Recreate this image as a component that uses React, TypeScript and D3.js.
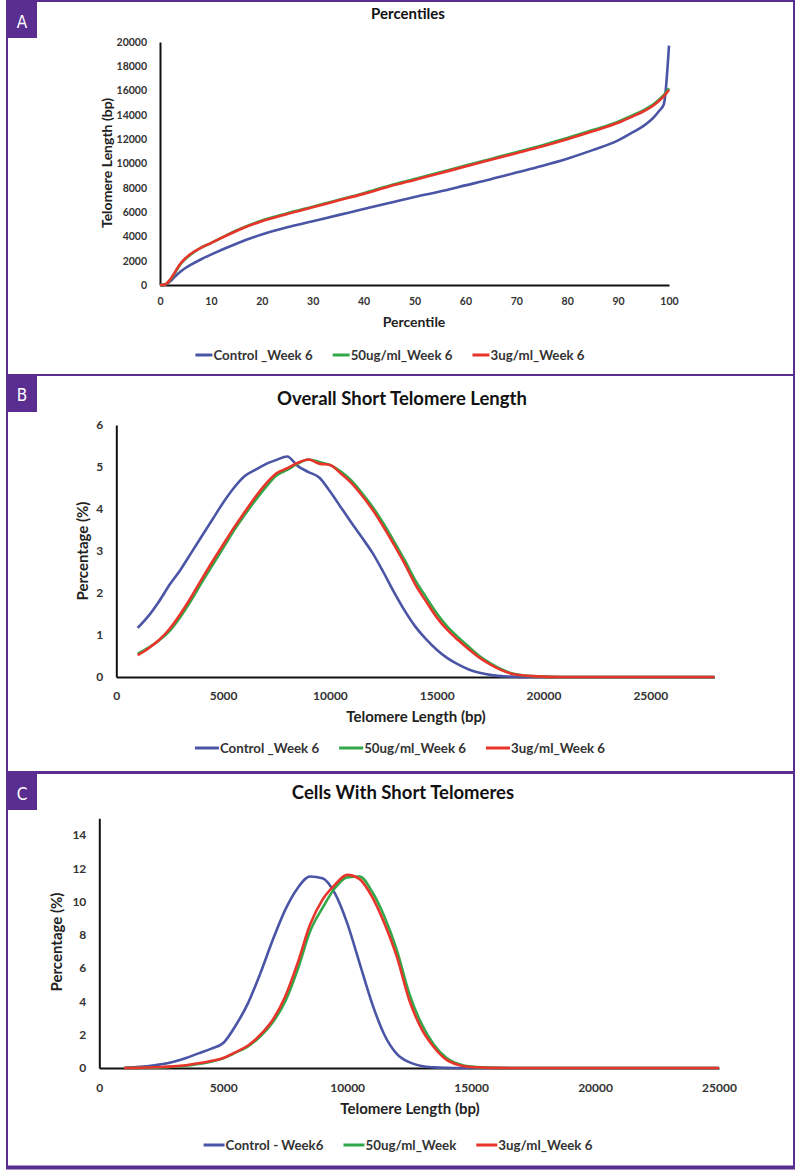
import { useEffect, useRef } from "react";
import * as d3 from "d3";

const PURPLE = "#5a2d90";
const BLUE = "#4a55a6";
const GREEN = "#32a84a";
const RED = "#e8342a";
const FONT = "Lato, 'Open Sans', sans-serif";

// ---- Panel A: Percentiles ----
const percentiles = [0, 1, 2, 3, 4, 5, 6, 8, 10, 15, 20, 25, 30, 35, 40, 45, 50, 55, 60, 65, 70, 75, 80, 85, 90, 93, 95, 97, 98, 99, 100];
const controlA = [0, 30, 300, 720, 1100, 1400, 1650, 2100, 2500, 3400, 4150, 4750, 5250, 5750, 6250, 6750, 7250, 7700, 8200, 8700, 9250, 9800, 10400, 11100, 11900, 12600, 13100, 13800, 14300, 14900, 19700];
const ug50A = [0, 50, 420, 1050, 1700, 2150, 2500, 3050, 3450, 4500, 5300, 5900, 6450, 7000, 7560, 8170, 8720, 9270, 9830, 10380, 10930, 11490, 12090, 12750, 13450, 14000, 14400, 14900, 15250, 15650, 16200];
const ug3A = [0, 50, 450, 1100, 1750, 2200, 2550, 3050, 3450, 4450, 5250, 5850, 6400, 6950, 7500, 8100, 8650, 9200, 9750, 10300, 10850, 11400, 12000, 12650, 13350, 13900, 14300, 14800, 15150, 15550, 16050];
const xTicksA = [0, 10, 20, 30, 40, 50, 60, 70, 80, 90, 100];
const yTicksA = [0, 2000, 4000, 6000, 8000, 10000, 12000, 14000, 16000, 18000, 20000];

// ---- Panel B: Overall Short Telomere Length ----
const lengthsB = [
  1000, 1500, 2000, 2500, 3000, 3500, 4000, 4500, 5000, 5500, 6000, 6500, 7000, 7500, 8000, 8500, 9000, 9500, 10000,
  10500, 11000, 11500, 12000, 12500, 13000, 13500, 14000, 14500, 15000, 15500, 16000, 16500, 17000, 17500, 18000,
  18500, 19000, 19500, 20000, 21000, 22000, 23000, 24000, 25000, 26000, 27000, 28000,
];
const controlB = [
  1.17, 1.45, 1.8, 2.2, 2.55, 2.95, 3.35, 3.75, 4.15, 4.5, 4.78, 4.93, 5.07, 5.17, 5.25, 5.02, 4.88, 4.75, 4.42,
  4.05, 3.68, 3.32, 2.95, 2.5, 2.02, 1.58, 1.2, 0.9, 0.65, 0.45, 0.3, 0.18, 0.1, 0.05, 0.02,
  0.01, 0, 0, 0, 0, 0, 0, 0, 0, 0, 0, 0,
];
const ug50B = [
  0.55, 0.7, 0.87, 1.1, 1.43, 1.82, 2.25, 2.66, 3.07, 3.48, 3.85, 4.2, 4.52, 4.8, 4.93, 5.08, 5.18, 5.12, 5.05,
  4.9, 4.68, 4.38, 4.05, 3.66, 3.23, 2.78, 2.3, 1.9, 1.52, 1.2, 0.95, 0.72, 0.5, 0.33, 0.19,
  0.09, 0.04, 0.02, 0.01, 0, 0, 0, 0, 0, 0, 0, 0,
];
const ug3B = [
  0.52, 0.68, 0.88, 1.15, 1.5, 1.9, 2.33, 2.75, 3.15, 3.55, 3.92, 4.28, 4.6, 4.85, 4.97, 5.1, 5.18, 5.08, 5.05,
  4.85, 4.62, 4.32, 3.98, 3.58, 3.15, 2.7, 2.2, 1.8, 1.42, 1.12, 0.88, 0.66, 0.46, 0.3, 0.17,
  0.08, 0.04, 0.02, 0.01, 0, 0, 0, 0, 0, 0, 0, 0,
];
const xTicksB = [0, 5000, 10000, 15000, 20000, 25000];
const yTicksB = [0, 1, 2, 3, 4, 5, 6];

// ---- Panel C: Cells With Short Telomeres ----
const lengthsC = [
  1000, 1500, 2000, 2500, 3000, 3500, 4000, 4500, 5000, 5500, 6000, 6500, 7000, 7500, 8000, 8500, 9000, 9500, 10000,
  10500, 11000, 11500, 12000, 12500, 13000, 13500, 14000, 14500, 15000, 16000, 17000, 18000, 19000, 20000, 21000,
  22000, 23000, 24000, 25000,
];
const controlC = [
  0, 0.05, 0.12, 0.22, 0.38, 0.6, 0.88, 1.15, 1.5, 2.55, 3.9, 5.7, 7.7, 9.5, 10.8, 11.5, 11.4, 10.5, 8.7,
  6.3, 3.9, 2.0, 0.85, 0.35, 0.12, 0.04, 0.01, 0, 0, 0, 0, 0, 0, 0, 0,
  0, 0, 0, 0,
];
const ug50C = [
  0, 0.01, 0.02, 0.04, 0.08, 0.14, 0.24, 0.38, 0.58, 0.92, 1.3, 1.9, 2.75, 4.0, 5.9, 8.2, 9.6, 10.8, 11.45,
  11.5, 10.6, 9.1, 7.1, 4.5, 2.65, 1.4, 0.62, 0.24, 0.08, 0.01, 0, 0, 0, 0, 0,
  0, 0, 0, 0,
];
const ug3C = [
  0, 0.01, 0.03, 0.06, 0.1, 0.17, 0.28, 0.42, 0.6, 0.95, 1.35, 2.0, 2.9, 4.3, 6.3, 8.6, 10.1, 11.0, 11.6,
  11.35, 10.3, 8.7, 6.7, 4.1, 2.35, 1.25, 0.5, 0.18, 0.06, 0.01, 0, 0, 0, 0, 0,
  0, 0, 0, 0,
];
const xTicksC = [0, 5000, 10000, 15000, 20000, 25000];
const yTicksC = [0, 2, 4, 6, 8, 10, 12, 14];

const legendA = ["Control _Week 6", "50ug/ml_Week 6", "3ug/ml_Week 6"];
const legendB = ["Control _Week 6", "50ug/ml_Week 6", "3ug/ml_Week 6"];
const legendC = ["Control - Week6", "50ug/ml_Week", "3ug/ml_Week 6"];

const panels = [
  {
    letter: "A", frameY: 1, frameH: 374, letterY: 28,
    title: "Percentiles", titleX: 408, titleY: 19, titleSize: 15,
    xs: percentiles, series: [controlA, ug50A, ug3A], names: legendA,
    xDomain: [0, 100], xRange: [160, 669], xTicks: xTicksA,
    yDomain: [0, 20000], yRange: [285, 42], yTicks: yTicksA,
    tickFont: 10.5, xPad: 13, yPad: 13, axisTitleSize: 14,
    xTitle: "Percentile", xTitleX: 414, xTitleY: 327,
    yTitle: "Telomere Length (bp)", yTitleX: 107, yTitleY: 163,
    legendX: 390, legendY: 355, legendLine: 17,
  },
  {
    letter: "B", frameY: 375, frameH: 397, letterY: 401,
    title: "Overall Short Telomere Length", titleX: 402, titleY: 405, titleSize: 18.5,
    xs: lengthsB, series: [controlB, ug50B, ug3B], names: legendB,
    xDomain: [0, 28000], xRange: [116.3, 714.4], xTicks: xTicksB,
    yDomain: [0, 6], yRange: [677, 425], yTicks: yTicksB,
    tickFont: 12, xPad: 14, yPad: 13, axisTitleSize: 15,
    xTitle: "Telomere Length (bp)", xTitleX: 416, xTitleY: 722,
    yTitle: "Percentage (%)", yTitleX: 83, yTitleY: 551,
    legendX: 400, legendY: 748, legendLine: 24,
  },
  {
    letter: "C", frameY: 773, frameH: 394, letterY: 800,
    title: "Cells With Short Telomeres", titleX: 403, titleY: 799, titleSize: 18.5,
    xs: lengthsC, series: [controlC, ug50C, ug3C], names: legendC,
    xDomain: [0, 25000], xRange: [99.3, 719], xTicks: xTicksC,
    yDomain: [0, 15], yRange: [1068, 818.3], yTicks: yTicksC,
    tickFont: 12, xPad: 15, yPad: 13, axisTitleSize: 15,
    xTitle: "Telomere Length (bp)", xTitleX: 410, xTitleY: 1114,
    yTitle: "Percentage (%)", yTitleX: 57, yTitleY: 942,
    legendX: 398, legendY: 1145, legendLine: 21,
  },
];

const colors = [BLUE, GREEN, RED];

function App() {
  const ref = useRef<SVGSVGElement | null>(null);

  useEffect(() => {
    const svg = d3.select(ref.current);
    svg.selectAll("*").remove();

    svg.append("rect").attr("width", 797).attr("height", 1170).attr("fill", "#fff");

    panels.forEach((p) => {
      const g = svg.append("g");

      // frame and letter box
      g.append("rect")
        .attr("x", 7).attr("y", p.frameY)
        .attr("width", 787).attr("height", p.frameH)
        .attr("fill", "none").attr("stroke", PURPLE).attr("stroke-width", 2);
      g.append("rect")
        .attr("x", 7).attr("y", p.frameY - 1)
        .attr("width", 30).attr("height", 38)
        .attr("fill", PURPLE);
      g.append("text")
        .attr("x", 22).attr("y", p.letterY)
        .attr("text-anchor", "middle")
        .attr("fill", "#fff")
        .style("font-family", "'Liberation Sans Narrow', 'DejaVu Sans Condensed', sans-serif")
        .style("font-stretch", "condensed")
        .style("font-size", "17px")
        .text(p.letter);

      const x = d3.scaleLinear().domain(p.xDomain).range(p.xRange);
      const y = d3.scaleLinear().domain(p.yDomain).range(p.yRange);

      const xAxis = g.append("g")
        .attr("transform", `translate(0, ${p.yRange[0]})`)
        .call(d3.axisBottom(x).tickValues(p.xTicks).tickSize(0).tickSizeOuter(0).tickPadding(p.xPad).tickFormat(d3.format("d")));
      const yAxis = g.append("g")
        .attr("transform", `translate(${p.xRange[0]}, 0)`)
        .call(d3.axisLeft(y).tickValues(p.yTicks).tickSize(0).tickSizeOuter(0).tickPadding(p.yPad).tickFormat(d3.format("d")));

      [xAxis, yAxis].forEach((ax) => {
        ax.select(".domain").attr("stroke", "#111").attr("stroke-width", 2);
        ax.selectAll("text")
          .attr("fill", "#333")
          .style("font-family", FONT)
          .style("font-weight", "bold")
          .style("font-size", `${p.tickFont}px`);
      });

      // lines
      const line = d3.line<number>()
        .x((_, i) => x(p.xs[i]))
        .y((d) => y(d))
        .curve(d3.curveMonotoneX);

      p.series.forEach((vals, i) => {
        g.append("path")
          .datum(vals)
          .attr("fill", "none")
          .attr("stroke", colors[i])
          .attr("stroke-width", 2.6)
          .attr("stroke-linejoin", "round")
          .attr("d", line);
      });

      // titles
      g.append("text")
        .attr("x", p.titleX).attr("y", p.titleY)
        .attr("text-anchor", "middle")
        .attr("fill", "#111")
        .style("font-family", FONT).style("font-weight", "bold")
        .style("font-size", `${p.titleSize}px`)
        .text(p.title);

      g.append("text")
        .attr("x", p.xTitleX).attr("y", p.xTitleY)
        .attr("text-anchor", "middle")
        .attr("fill", "#222")
        .style("font-family", FONT).style("font-weight", "bold")
        .style("font-size", `${p.axisTitleSize}px`)
        .text(p.xTitle);

      g.append("text")
        .attr("transform", `translate(${p.yTitleX}, ${p.yTitleY}) rotate(-90)`)
        .attr("text-anchor", "middle")
        .attr("dy", "0.35em")
        .attr("fill", "#222")
        .style("font-family", FONT).style("font-weight", "bold")
        .style("font-size", `${p.axisTitleSize}px`)
        .text(p.yTitle);

      // legend, centred on legendX
      const leg = g.append("g");
      let cursor = 0;
      p.names.forEach((name, i) => {
        const item = leg.append("g").attr("transform", `translate(${cursor}, ${p.legendY})`);
        item.append("line")
          .attr("x1", 0).attr("x2", p.legendLine)
          .attr("stroke", colors[i]).attr("stroke-width", 3);
        const t = item.append("text")
          .attr("x", p.legendLine + 1)
          .attr("dy", "0.35em")
          .attr("fill", "#333")
          .style("font-family", FONT).style("font-weight", "bold")
          .style("font-size", "13.3px")
          .text(name);
        const w = (t.node() as SVGTextElement).getComputedTextLength();
        cursor += p.legendLine + 1 + w + 20;
      });
      const total = cursor - 20;
      leg.attr("transform", `translate(${p.legendX - total / 2}, 0)`);
    });

    // heavier bottom edge of the last panel
    svg.append("line")
      .attr("x1", 6).attr("x2", 795)
      .attr("y1", 1167.5).attr("y2", 1167.5)
      .attr("stroke", PURPLE).attr("stroke-width", 4);
  }, []);

  return (
    <svg
      ref={ref}
      width={797}
      height={1170}
      style={{ position: "absolute", left: 0, top: 0 }}
    />
  );
}

export default App;
